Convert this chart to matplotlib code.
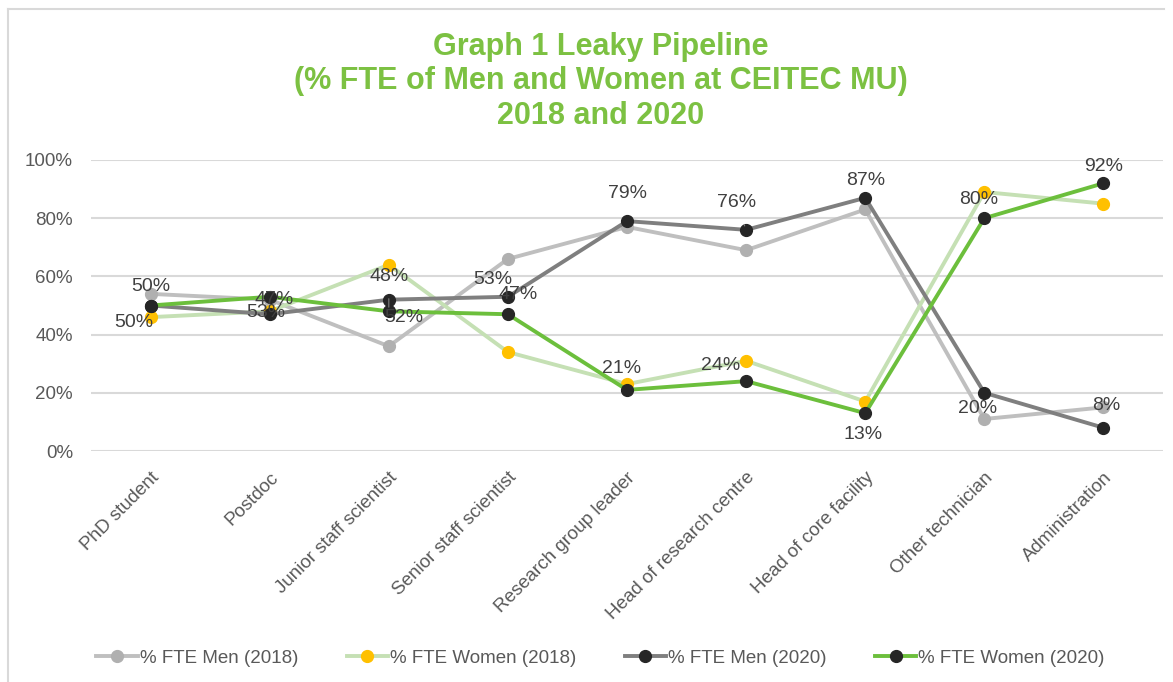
import matplotlib.pyplot as plt
from matplotlib.lines import Line2D

plt.rcParams['font.family'] = ['Liberation Sans', 'DejaVu Sans']

# categories and values (fraction of FTE)
categories = ['PhD student', 'Postdoc', 'Junior staff scientist', 'Senior staff scientist',
              'Research group leader', 'Head of research centre', 'Head of core facility',
              'Other technician', 'Administration']
men_2018 = [0.54, 0.52, 0.36, 0.66, 0.77, 0.69, 0.83, 0.11, 0.15]
women_2018 = [0.46, 0.48, 0.64, 0.34, 0.23, 0.31, 0.17, 0.89, 0.85]
men_2020 = [0.50, 0.47, 0.52, 0.53, 0.79, 0.76, 0.87, 0.20, 0.08]
women_2020 = [0.50, 0.53, 0.48, 0.47, 0.21, 0.24, 0.13, 0.80, 0.92]

# label offsets in pixels (dx, dy) for the 2020 data labels
men_offsets = [(0, 19), (4, 15), (15, -18), (-15, 17), (0, 28), (-10, 27), (0, 17), (-7, -16), (3, 22)]
women_offsets = [(-17, -17), (-4, -16), (0, 35), (10, 20), (-5, 21), (-26, 16), (-2, -21), (-6, 19), (0, 17)]
leader = {('m', 5), ('w', 2)}

fig = plt.figure(figsize=(11.73, 6.82), dpi=100)
ax = fig.add_axes([0.0776, 0.3387, 0.9139, 0.4267])

x = list(range(len(categories)))
lw = 2.8
ms = 8.5
ax.plot(x, men_2018, color='#bfbfbf', lw=lw, marker='o', ms=ms, mfc='#b0b0b0', mec='#b0b0b0', zorder=3)
ax.plot(x, women_2018, color='#c5e0b4', lw=lw, marker='o', ms=ms, mfc='#ffc000', mec='#ffc000', zorder=3)
ax.plot(x, men_2020, color='#7f7f7f', lw=lw, marker='o', ms=ms, mfc='#262626', mec='#262626', zorder=4)
ax.plot(x, women_2020, color='#6cbf3c', lw=lw, marker='o', ms=ms, mfc='#262626', mec='#262626', zorder=5)

for key, vals, offs in [('m', men_2020, men_offsets), ('w', women_2020, women_offsets)]:
    for i, (v, (dx, dy)) in enumerate(zip(vals, offs)):
        arrow = None
        if (key, i) in leader:
            arrow = dict(arrowstyle='-', color='#7f7f7f', lw=0.8, shrinkA=8, shrinkB=3)
        ax.annotate(f'{v:.0%}', (i, v), xytext=(dx, dy), textcoords='offset pixels',
                    ha='center', va='center', fontsize=14, color='#404040',
                    arrowprops=arrow, zorder=6)

ax.set_xlim(-0.5, len(categories) - 0.5)
ax.set_ylim(0, 1)
ax.set_yticks([0, 0.2, 0.4, 0.6, 0.8, 1.0])
ax.set_yticklabels([f'{int(t * 100)}%' for t in [0, 0.2, 0.4, 0.6, 0.8, 1.0]])
ax.set_xticks(x)
ax.set_xticklabels(categories, rotation=45, ha='right', rotation_mode='anchor')
ax.tick_params(axis='both', length=0, labelsize=13.5, colors='#595959')
ax.tick_params(axis='y', pad=13)
ax.tick_params(axis='x', pad=13)
ax.yaxis.grid(True, color='#d9d9d9', lw=1.5)
ax.set_axisbelow(True)
for s in ax.spines.values():
    s.set_visible(False)

fig.text(0.512, 0.881, 'Graph 1 Leaky Pipeline\n(% FTE of Men and Women at CEITEC MU)\n2018 and 2020',
         ha='center', va='center', fontsize=22, fontweight='bold', color='#7cc142', linespacing=1.2)

handles = [
    Line2D([], [], color='#bfbfbf', lw=lw, marker='o', ms=ms, mfc='#b0b0b0', mec='#b0b0b0'),
    Line2D([], [], color='#c5e0b4', lw=lw, marker='o', ms=ms, mfc='#ffc000', mec='#ffc000'),
    Line2D([], [], color='#7f7f7f', lw=lw, marker='o', ms=ms, mfc='#262626', mec='#262626'),
    Line2D([], [], color='#6cbf3c', lw=lw, marker='o', ms=ms, mfc='#262626', mec='#262626'),
]
labels = ['% FTE Men (2018)', '% FTE Women (2018)', '% FTE Men (2020)', '% FTE Women (2020)']
fig.legend(handles, labels, loc='center', bbox_to_anchor=(0.512, 0.035), ncol=4, frameon=False,
           fontsize=13.5, labelcolor='#595959', handlelength=2.2, handletextpad=0.1, columnspacing=2.6)

# chart border (left and top)
fig.add_artist(Line2D([0.007, 0.007], [0, 0.987], color='#d9d9d9', lw=1.5))
fig.add_artist(Line2D([0.007, 0.992], [0.987, 0.987], color='#d9d9d9', lw=1.5))

fig.savefig('out.png', dpi=100)
